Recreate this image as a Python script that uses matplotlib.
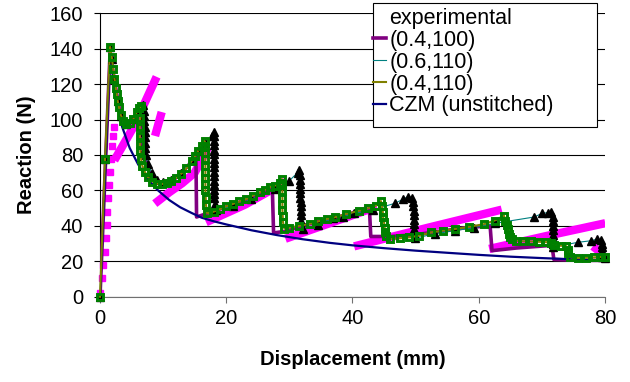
import numpy as np
import matplotlib.pyplot as plt
from matplotlib.lines import Line2D
from matplotlib.patches import Rectangle

nan = np.nan

# experimental: first rise as single squares, then dense bands (NaN = gap)
exp_rise_x = [0, 0.27, 0.52, 0.79, 0.95, 1.06, 1.15, 1.31, 1.47, 1.6, 1.75, 1.9, 2.05, 2.3]
exp_rise_y = [2, 10.4, 17.9, 25.4, 33, 40.5, 48, 55.5, 63, 70.5, 78, 85, 91, 96]
exp_band_x = [2.6, 5.5, 8.7, nan, 8.9, 9.6, nan, 9.2, 11, 13, 15, 16.8, nan,
              17.4, 23, 29, nan, 30, 36.4, 43.2, nan, 40.9, 52, 63, nan,
              62.3, 71, 79.4, nan, 78.6, 80]
exp_band_y = [79, 97, 122, nan, 93, 102, nan, 54, 59, 64, 70, 82, nan,
              43, 52, 64, nan, 33.5, 41.5, 50, nan, 29, 39, 48.6, nan,
              27.5, 34.5, 41, nan, 27, 23]

# (0.4,100)
p1_x = [0, 1.6, 2.3, 3.2, 4.2, 5.3, 6.2, 6.6, 6.7, 7.3, 8.5, 10, 12, 14, 15.2,
        15.3, 17, 21, 24, 27.3, 27.5, 29.5, 33, 37, 40, 42.7, 42.9, 46, 50,
        54, 58, 61.8, 62.1, 66, 71.6, 71.9, 76, 80]
p1_y = [0, 138, 122, 103, 97, 99, 103, 104, 85, 74, 66, 63, 67, 74, 81,
        45, 47, 52, 56, 61.5, 36, 37, 41, 44.5, 47, 48.5, 34, 34, 35,
        37, 39, 40, 26, 27.5, 29, 21, 20.5, 20.5]

# (0.6,110)
p2_x = [0, 0.8, 1.6, 1.9, 2.3, 2.8, 3.3, 4.2, 5.3, 6.2, 6.8,
        7.0, 7.0, 7.0, 7.1, 7.1, 7.1, 7.2, 7.2, 7.3,
        7.6, 8.2, 9.0, 10.0, 11.3, 12.9, 14.5, 15.6, 16.6, 17.8, 18.1,
        18.1, 18.1, 18.1, 18.1, 18.1, 18.1, 18.1, 18.1, 18.1, 18.1, 18.1,
        18.1, 18.1, 18.1, 18.1, 18.2, 18.3,
        21.0, 24.0, 27.7, 30.0, 31.3, 31.6,
        31.7, 31.7, 31.7, 31.7, 31.7, 31.7, 31.8, 31.8, 31.8, 31.8, 31.9,
        32.2, 34.5, 36.9, 38.5, 40.3, 43.2, 46.7, 48.0, 48.8, 49.4,
        49.6, 49.6, 49.7, 49.7, 49.7, 49.8, 49.8, 49.8, 49.9,
        53.0, 56.2, 59.3, 62.5, 68.8, 70.0, 71.0, 71.4,
        71.7, 71.7, 71.7, 71.7, 71.7, 71.7, 71.8, 71.8,
        75.7, 77.8, 78.8, 79.3,
        79.5, 79.5, 79.6, 79.6, 79.6, 80]
p2_y = [0, 78, 141, 134, 123, 110.7, 102, 97.6, 100.4, 105, 108,
        105, 102, 99, 96, 93, 90, 87, 84, 80,
        75, 70, 66, 64.5, 66, 70, 77, 82.5, 87, 91, 93,
        90.5, 88, 85.5, 83, 80.5, 78, 75.5, 73, 70.5, 68, 65.5,
        63, 60.5, 58, 55.5, 52.5, 49,
        51, 55, 60.8, 65.5, 70, 71.5,
        68.5, 66, 63.5, 61, 58.5, 56, 53.5, 51, 48.5, 46, 43,
        38.5, 40.5, 44.4, 45.2, 47, 49, 52.7, 55, 56.5, 56,
        53.5, 51, 48.5, 46, 43.5, 41, 38.5, 36, 33,
        35.5, 37.3, 39, 41.4, 45, 47, 47.5, 47.8,
        45, 42.5, 40, 37.5, 35, 32.5, 30, 28,
        30.7, 31.6, 32.5, 32,
        30, 28, 26, 24, 22.5, 22]

# (0.4,110)
p3_x = [0, 0.8, 1.6,
        1.85, 2.1, 2.3, 2.5, 2.65, 2.8, 3.0, 3.3, 3.7, 4.2, 4.7, 5.3, 5.8, 6.2, 6.5,
        6.4, 6.3, 6.3, 6.35, 6.4, 6.5, 6.7, 7.1, 7.6, 8.3, 9.0, 9.8, 10.6, 11.3,
        12.1, 12.9, 13.7, 14.5, 15.1, 15.6, 16.1, 16.6,
        16.7, 16.7, 16.7, 16.7, 16.7, 16.7, 16.7, 16.7, 16.75, 16.8, 17.0,
        18.0, 19.0, 20.0, 21.1, 22.1, 23.2, 24.2, 25.3, 26.1, 26.9, 27.7, 28.5, 28.8,
        28.9, 28.9, 28.9, 28.9, 28.9, 28.95, 29.0, 29.2,
        30.0, 31.6, 33.2, 34.6, 35.9, 37.2, 39.0, 41.1, 42.5, 43.8, 44.5,
        44.7, 44.8, 44.85, 45.0, 45.1, 45.2, 45.3, 45.9,
        47.5, 49.0, 50.6, 52.5, 54.3, 56.2, 58.5, 60.9, 62.5, 64.0,
        64.2, 64.4, 64.6, 64.8, 65.0, 65.2, 65.9,
        67.0, 68.2, 69.5, 70.7, 71.5,
        72.0, 73.0, 73.9, 74.1, 74.2, 74.5, 75.8, 77.0, 78.2, 79.4, 80]
p3_y = [0, 78, 141,
        135.6, 128.6, 123, 118, 114.5, 110.7, 107, 102.5, 99.4, 97.6, 98, 100.4, 104, 106.5, 107.5,
        101, 96, 91, 86, 82, 78, 74, 70.5, 67.5, 65, 63.8, 63.6, 64.3, 65.5,
        67.2, 69.5, 72.5, 76.5, 79.5, 82.5, 85.2, 87.8,
        84.5, 81, 77.5, 74, 70.5, 67, 63.5, 60, 56, 51.5, 47,
        48, 49.5, 51, 52.4, 53.8, 55.2, 57, 58.9, 60.3, 61.8, 62.7, 64, 66.5,
        63, 59.5, 56, 52.5, 49, 45.5, 42, 38.5,
        39, 40, 41.1, 42.5, 43.9, 44.8, 46.7, 48.6, 50, 51.4, 54,
        51, 48, 45, 42, 39, 36.5, 34.5, 32.6,
        33, 33.5, 34.5, 36.3, 37.3, 38.2, 39.5, 41, 43, 45.7,
        43, 40.5, 38, 35.5, 33.5, 32.3, 31.6,
        31.3, 31.2, 31, 30.8, 30.5,
        29, 28.8, 28.5, 26.5, 24.5, 22.3, 21.8, 22, 22.2, 22.5, 22.5]

# CZM (unstitched)
czm_x = [0, 1.6, 2.5, 3.5, 4.7, 6, 7.5, 9.2, 11, 12.7, 14.5, 16.1, 18, 20, 24,
         28, 32, 36.4, 40, 45, 50, 55, 60.1, 65, 70, 75, 80]
czm_y = [0, 138, 112, 96, 84, 75, 66.5, 60, 54.5, 50.5, 47.3, 44.6, 42.6, 40.8, 37.5,
         34.8, 32.5, 30.4, 29, 27.4, 26, 24.8, 23.6, 22.6, 21.8, 21.1, 20.5]

labels = ["experimental", "(0.4,100)", "(0.6,110)", "(0.4,110)", "CZM (unstitched)"]

plt.rcParams["font.family"] = ["Liberation Sans", "DejaVu Sans"]
plt.rcParams["font.size"] = 14.5

fig = plt.figure(figsize=(6.3, 3.82), dpi=100)
ax = fig.add_axes([0.1587, 0.2233, 0.8016, 0.7419])

ax.plot(exp_rise_x, exp_rise_y, ls="none", marker="s", ms=4.8, color="#FF00FF",
        mec="#FF00FF", zorder=2, clip_on=False)
ax.plot(exp_band_x, exp_band_y, color="#FF00FF", lw=6, solid_capstyle="projecting", zorder=2)
ax.plot(p1_x, p1_y, color="#800080", lw=2.6, zorder=3)
ax.plot(czm_x, czm_y, color="#000080", lw=1.6, zorder=4)
ax.plot(p2_x, p2_y, color="#008080", lw=0.8, marker="^", ms=6, mfc="black",
        mec="black", zorder=5, clip_on=False)
ax.plot(p3_x, p3_y, color="#808000", lw=1.5, marker="s", ms=3.8, mfc="none",
        mec="#008000", mew=2.1, zorder=6, clip_on=False)

ax.set_xlim(0, 80)
ax.set_ylim(0, 160)
ax.set_xticks(np.arange(0, 81, 20))
ax.set_yticks(np.arange(0, 161, 20))
ax.yaxis.grid(True, color="black", lw=0.8)
ax.set_axisbelow(True)
for side in ["top", "right"]:
    ax.spines[side].set_visible(False)
ax.spines["left"].set_linewidth(0.8)
ax.spines["bottom"].set_linewidth(0.8)
ax.spines["bottom"].set_color("#707070")
ax.tick_params(axis="y", length=4, width=0.8, pad=8)
ax.tick_params(axis="x", length=4, width=0.8, pad=5, color="#707070")

ax.set_xlabel("Displacement (mm)", fontweight="bold")
ax.set_ylabel("Reaction (N)", fontweight="bold")
ax.xaxis.set_label_coords(0.5, -0.223)
ax.xaxis.label.set_va("center")
ax.yaxis.set_label_coords(-0.145, 0.5)
ax.yaxis.label.set_va("center")

# legend
handles = [
    Line2D([], [], ls="none"),
    Line2D([], [], color="#800080", lw=2.6),
    Line2D([], [], color="#008080", lw=0.8),
    Line2D([], [], color="#808000", lw=1.5),
    Line2D([], [], color="#000080", lw=1.6),
]
fig.patches.append(Rectangle((373 / 630, 1 - 127 / 382), 224 / 630, 124 / 382,
                             transform=fig.transFigure, facecolor="white",
                             edgecolor="black", lw=0.8, zorder=10))
leg = fig.legend(handles, labels, loc="upper left", bbox_to_anchor=(373 / 630, 1 - 8 / 382),
                 frameon=False, borderpad=0, borderaxespad=0, handlelength=0.6,
                 handletextpad=0.15, labelspacing=0.04, fontsize=15.5)
leg.set_zorder(11)

fig.savefig("out.png", dpi=100)
